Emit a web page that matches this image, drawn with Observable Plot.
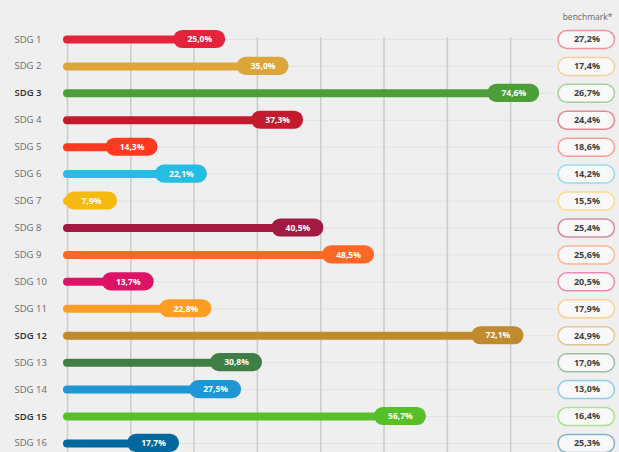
<!DOCTYPE html>
<html>
<head>
<meta charset="utf-8">
<script src="https://cdn.jsdelivr.net/npm/d3@7"></script>
<script src="https://cdn.jsdelivr.net/npm/@observablehq/plot@0.6"></script>
<style>
  html, body { margin: 0; padding: 0; background: #efefef; }
  #chart svg { display: block; background: #efefef; }
</style>
</head>
<body>
<div id="chart"></div>
<script>
const goals = ["SDG 1","SDG 2","SDG 3","SDG 4","SDG 5","SDG 6","SDG 7","SDG 8","SDG 9","SDG 10","SDG 11","SDG 12","SDG 13","SDG 14","SDG 15","SDG 16"];
const values = [25.0, 35.0, 74.6, 37.3, 14.3, 22.1, 7.9, 40.5, 48.5, 13.7, 22.8, 72.1, 30.8, 27.5, 56.7, 17.7];
const benchmarks = [27.2, 17.4, 26.7, 24.4, 18.6, 14.2, 15.5, 25.4, 25.6, 20.5, 17.9, 24.9, 17.0, 13.0, 16.4, 25.3];
const colors = ["#e5243b","#dda63a","#4c9f38","#c5192d","#ff3a21","#26bde2","#f5b90f","#a21942","#fd6925","#dd1367","#fd9d24","#bf8b2e","#3f7e44","#1f97d4","#56c02b","#00689d"];
const boldGoals = ["SDG 3","SDG 12","SDG 15"];
const gridTicks = [0, 10, 20, 30, 40, 50, 60, 70];

const fmt = v => v.toFixed(1).replace(".", ",") + "%";
const data = goals.map((g, i) => ({
  goal: g, value: values[i], bench: benchmarks[i], color: colors[i],
  light: d3.interpolateRgb(colors[i], "#ffffff")(0.5),
  bold: boldGoals.includes(g)
}));

const font = "'Open Sans', 'DejaVu Sans', sans-serif";

const chart = Plot.plot({
  width: 619,
  height: 452,
  marginLeft: 67,
  marginRight: 0,
  marginTop: 0,
  marginBottom: 0,
  style: { background: "#efefef", fontFamily: font },
  x: { domain: [0, 87.2], axis: null },
  y: { domain: goals, range: [25.5, 456.4], padding: 0, round: false, axis: null },
  color: { type: "identity" },
  marks: [
    // faint row lines
    Plot.ruleY(data, { y: "goal", stroke: "#e2e2e2", strokeWidth: 1, insetRight: 64 }),
    // vertical grid
    Plot.ruleX(gridTicks, { x: d => d, stroke: "#cdcdcd", strokeWidth: 1.6, insetTop: 37 }),
    // bar lines
    Plot.ruleY(data, { y: "goal", x1: 0, x2: "value", stroke: "color", strokeWidth: 8, strokeLinecap: "round", insetRight: 10 }),
    // value pills
    Plot.barX(data, { y: "goal", x1: "value", x2: "value", fill: "color", insetLeft: -52, insetTop: 4.4, insetBottom: 4.4, rx: 9, ry: 9 }),
    Plot.text(data, { y: "goal", x: "value", dx: -26, text: d => fmt(d.value), fill: "white", fontWeight: "bold", fontSize: 8.5, textAnchor: "middle" }),
    // SDG labels
    Plot.text(data.filter(d => !d.bold), { y: "goal", frameAnchor: "left", dx: -53, text: "goal", textAnchor: "start", fill: "#6a6a6a", fontSize: 9.5 }),
    Plot.text(data.filter(d => d.bold), { y: "goal", frameAnchor: "left", dx: -53, text: "goal", textAnchor: "start", fill: "#2e2e2e", fontWeight: 600, fontSize: 9.5 }),
    // benchmark header
    Plot.text(["benchmark*"], { frameAnchor: "top-right", dx: -32, dy: 17, text: d => d, textAnchor: "middle", lineAnchor: "middle", fill: "#666", fontSize: 8.5 }),
    // benchmark pills
    Plot.ruleY(data, { y: "goal", stroke: "light", strokeWidth: 19.5, strokeLinecap: "round", insetLeft: 500, insetRight: 13.5 }),
    Plot.ruleY(data, { y: "goal", stroke: "#f8f8f8", strokeWidth: 16.5, strokeLinecap: "round", insetLeft: 500, insetRight: 13.5 }),
    Plot.text(data, { y: "goal", frameAnchor: "right", dx: -32.5, text: d => fmt(d.bench), textAnchor: "middle", fill: "#404040", fontWeight: "bold", fontSize: 9 })
  ]
});
document.getElementById("chart").appendChild(chart);
</script>
</body>
</html>
